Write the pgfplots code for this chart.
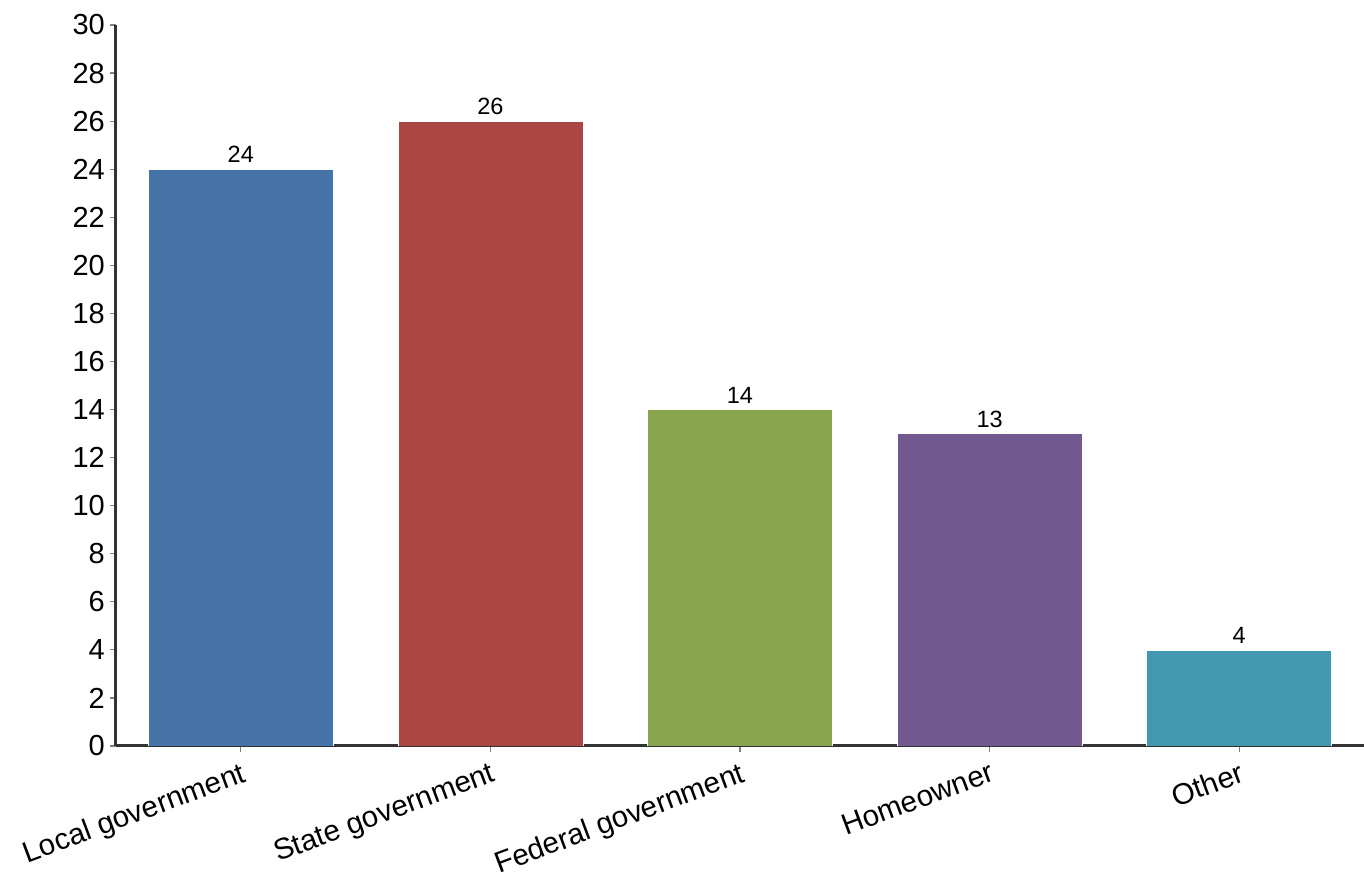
\documentclass[border=0pt]{standalone}
\usepackage{fontspec}
\setmainfont{Liberation Sans}
\usepackage{pgfplots}
\pgfplotsset{compat=1.18}
\definecolor{cA}{HTML}{4572A7}
\definecolor{cB}{HTML}{AA4643}
\definecolor{cC}{HTML}{89A54E}
\definecolor{cD}{HTML}{71588F}
\definecolor{cE}{HTML}{4198AF}
\definecolor{axc}{HTML}{333333}
\begin{document}
\begin{tikzpicture}
\path[use as bounding box] (-116pt,-131pt) rectangle (1248pt,746pt);
\begin{axis}[
  at={(0,0)}, anchor=south west,
  scale only axis, width=1248pt, height=721pt,
  xmin=-0.5, xmax=4.5, ymin=0, ymax=30,
  enlargelimits=false,
  ybar, bar width=185pt, /pgf/bar shift=0pt,
  axis x line=bottom, axis y line=left,
  axis line style={-, line width=3pt, color=axc},
  ytick={0,2,...,30},
  xtick={0,1,2,3,4},
  xticklabels={Local government, State government, Federal government, Homeowner, Other},
  tick align=outside,
  major tick length=6pt,
  tick style={color=gray, line width=1.2pt},
  /pgf/number format/assume math mode=true,
  yticklabel style={font=\fontsize{29}{32}\selectfont, inner sep=0pt, xshift=-5pt},
  xticklabel style={font=\fontsize{29.5}{33}\selectfont, rotate=20.5, anchor=north east, inner sep=0pt, xshift=-4pt, yshift=-8pt},
  nodes near coords,
  every node near coord/.append style={font=\fontsize{23.5}{26}\selectfont, color=black, inner sep=0pt, yshift=6pt},
  every axis plot/.append style={draw=white, line width=0.5pt},
]
\addplot[fill=cA] coordinates {(0,24)};
\addplot[fill=cB] coordinates {(1,26)};
\addplot[fill=cC] coordinates {(2,14)};
\addplot[fill=cD] coordinates {(3,13)};
\addplot[fill=cE] coordinates {(4,4)};
\end{axis}
\end{tikzpicture}
\end{document}
